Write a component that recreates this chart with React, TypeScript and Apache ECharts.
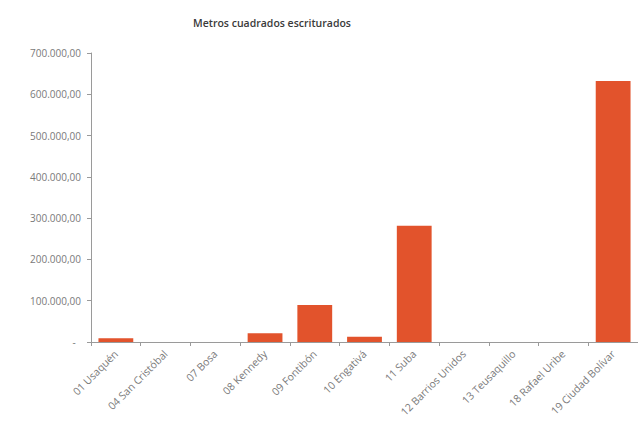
import React, { useEffect, useRef } from "react";
import * as echarts from "echarts";

const categories = [
  "01 Usaquén",
  "04 San Cristóbal",
  "07 Bosa",
  "08 Kennedy",
  "09 Fontibón",
  "10 Engativá",
  "11 Suba",
  "12 Barrios Unidos",
  "13 Teusaquillo",
  "18 Rafael Uribe",
  "19 Ciudad Bolívar",
];
const values = [9000, 0, 0, 21000, 89500, 13000, 281500, 0, 0, 0, 632000];
const title = "Metros cuadrados escriturados";

function fmt(v: number): string {
  if (v === 0) return "-  ";
  const s = Math.round(v).toString().replace(/\B(?=(\d{3})+(?!\d))/g, ".");
  return s + ",00";
}

export default function App() {
  const ref = useRef<HTMLDivElement>(null);
  useEffect(() => {
    document.body.style.margin = "0";
    const chart = echarts.init(ref.current!, null, { renderer: "svg" });
    chart.setOption({
      animation: false,
      backgroundColor: "#ffffff",
      title: {
        text: title,
        left: 267,
        top: 12,
        textAlign: "center",
        textStyle: {
          fontFamily: "Open Sans",
          fontSize: 10.5,
          fontWeight: 600,
          color: "#3a3a3a",
        },
      },
      grid: { left: 91, top: 53, right: 0, bottom: 89, containLabel: false },
      xAxis: {
        type: "category",
        data: categories,
        axisLine: { lineStyle: { color: "#9a9a9a", width: 1 } },
        axisTick: { show: true, alignWithLabel: false, length: 4, lineStyle: { color: "#9a9a9a" } },
        axisLabel: {
          rotate: 45,
          interval: 0,
          fontFamily: "Open Sans",
          fontSize: 10.5,
          color: "#7a7a7a",
          margin: 10,
        },
      },
      yAxis: {
        type: "value",
        min: 0,
        max: 700000,
        interval: 100000,
        axisLine: { show: true, lineStyle: { color: "#9a9a9a", width: 1 } },
        axisTick: { show: true, length: 4, lineStyle: { color: "#9a9a9a" } },
        splitLine: { show: false },
        axisLabel: {
          formatter: (v: number) => fmt(v),
          fontFamily: "Open Sans",
          fontSize: 10,
          color: "#7a7a7a",
          margin: 10,
        },
      },
      series: [
        {
          type: "bar",
          data: values,
          barCategoryGap: "30%",
          itemStyle: { color: "#E2532C" },
        },
      ],
    });
    return () => chart.dispose();
  }, []);
  return (
    <div
      ref={ref}
      style={{ position: "absolute", left: 0, top: 0, width: 638, height: 431 }}
    />
  );
}
